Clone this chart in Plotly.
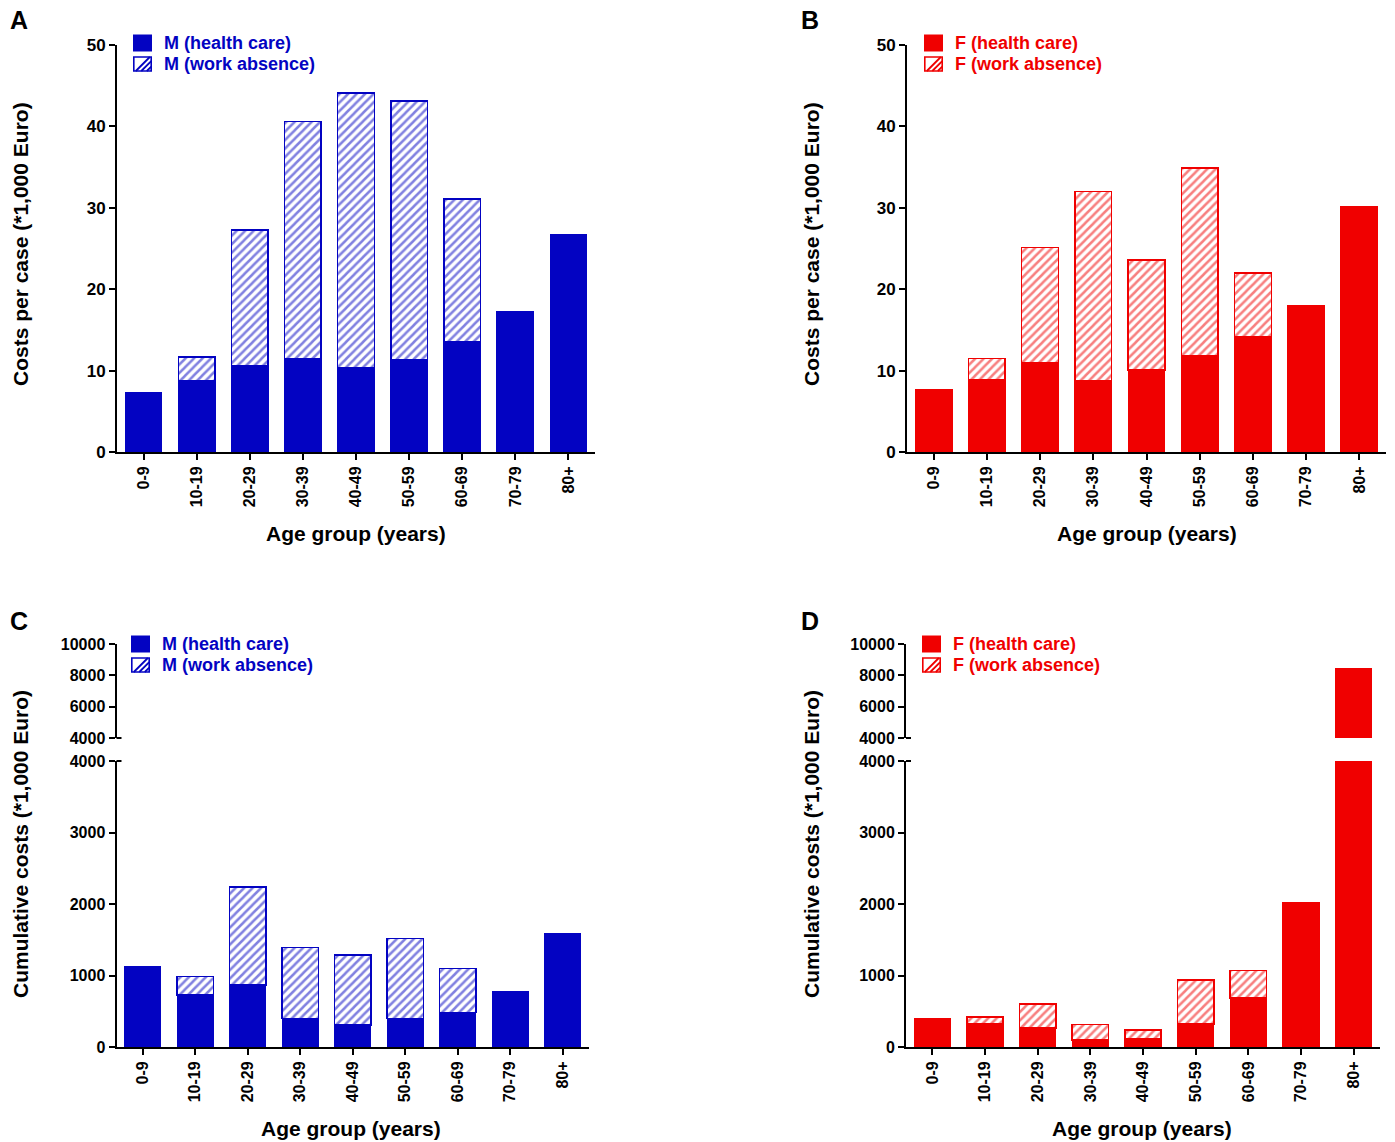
import plotly.graph_objects as go

ages = ["0-9", "10-19", "20-29", "30-39", "40-49", "50-59", "60-69", "70-79", "80+"]

# Panel A: men, costs per case (*1,000 Euro)
a_health = [7.3, 8.8, 10.6, 11.5, 10.4, 11.3, 13.5, 17.3, 26.7]
a_work = [None, 2.9, 16.7, 29.1, 33.7, 31.8, 17.6, None, None]

# Panel B: women, costs per case
b_health = [7.7, 8.9, 10.9, 8.8, 10.1, 11.8, 14.1, 18.0, 30.1]
b_work = [None, 2.6, 14.2, 23.2, 13.5, 23.1, 7.9, None, None]

# Panel C: men, cumulative costs
c_health = [1120, 725, 870, 400, 305, 400, 485, 780, 1580]
c_work = [None, 260, 1370, 990, 980, 1115, 615, None, None]

# Panel D: women, cumulative costs
d_health = [395, 325, 270, 100, 110, 325, 685, 2025, 8400]
d_work = [None, 95, 335, 215, 130, 610, 385, None, None]

BLUE = "#0303C2"
RED = "#F00000"
W, H = 1395, 1142
FONT = "Liberation Sans"


def px(x):
    return x / W


def py(y):
    return 1 - y / H


fig = go.Figure()


def add_pair(health, work, color, sex, xa, ya):
    fig.add_trace(go.Bar(
        x=ages, y=health, name=f"{sex} (health care)", xaxis=xa, yaxis=ya,
        marker=dict(color=color, line=dict(color=color, width=1.2)), showlegend=False))
    fig.add_trace(go.Bar(
        x=ages, y=work, name=f"{sex} (work absence)", xaxis=xa, yaxis=ya,
        marker=dict(color="white", line=dict(color=color, width=1.6),
                    pattern=dict(shape="/", fgcolor=color, bgcolor="white",
                                 size=6, solidity=0.42, fillmode="overlay")),
        showlegend=False))


add_pair(a_health, a_work, BLUE, "M", "x", "y")
add_pair(b_health, b_work, RED, "F", "x2", "y2")
add_pair(c_health, c_work, BLUE, "M", "x3", "y3")
add_pair(c_health, c_work, BLUE, "M", "x5", "y5")
add_pair(d_health, d_work, RED, "F", "x4", "y4")
add_pair(d_health, d_work, RED, "F", "x6", "y6")

tickfont = dict(family=FONT, size=16, color="black", weight="bold")
tickfont_ab = dict(family=FONT, size=17, color="black", weight="bold")
common_x = dict(type="category", range=[-0.5, 8.5], showline=True, linecolor="black",
                linewidth=2, ticks="outside", ticklen=6, tickwidth=2, tickcolor="black",
                tickangle=-90, tickfont=tickfont, showgrid=False, zeroline=False,
                automargin=False)
common_y = dict(showline=True, linecolor="black", linewidth=2, ticks="outside",
                ticklen=6, tickwidth=2, tickcolor="black", tickfont=tickfont,
                showgrid=False, zeroline=False, tickformat="d", automargin=False)

TOP_AB, BOT_AB = 45, 452
UP_T, UP_B, LO_T, LO_B = 644, 738, 761, 1047
XA = (117, 595)
XB = (907, 1386)
XC = (116.5, 589)
XD = (906, 1380)

lay = dict(
    width=W, height=H, margin=dict(l=0, r=0, t=0, b=0, autoexpand=False),
    paper_bgcolor="white", plot_bgcolor="white", barmode="stack", bargap=0.31,
    font=dict(family=FONT, color="black"), showlegend=False,
)
lay["xaxis"] = dict(common_x, domain=[px(XA[0]), px(XA[1])], anchor="y")
lay["yaxis"] = dict(common_y, domain=[py(BOT_AB), py(TOP_AB)], range=[0, 50], dtick=10,
                    anchor="x", tickfont=tickfont_ab)
lay["xaxis2"] = dict(common_x, domain=[px(XB[0]), px(XB[1])], anchor="y2")
lay["yaxis2"] = dict(common_y, domain=[py(BOT_AB), py(TOP_AB)], range=[0, 50], dtick=10,
                     anchor="x2", tickfont=tickfont_ab)
lay["xaxis3"] = dict(common_x, domain=[px(XC[0]), px(XC[1])], anchor="y3")
lay["yaxis3"] = dict(common_y, domain=[py(LO_B), py(LO_T)], range=[0, 4000],
                     tickvals=[0, 1000, 2000, 3000, 4000], anchor="x3")
lay["xaxis5"] = dict(domain=[px(XC[0]), px(XC[1])], anchor="y5", type="category",
                     range=[-0.5, 8.5], visible=False, matches="x3")
lay["yaxis5"] = dict(common_y, domain=[py(UP_B), py(UP_T)], range=[4000, 10000],
                     tickvals=[4000, 6000, 8000, 10000], anchor="x5")
lay["xaxis4"] = dict(common_x, domain=[px(XD[0]), px(XD[1])], anchor="y4")
lay["yaxis4"] = dict(common_y, domain=[py(LO_B), py(LO_T)], range=[0, 4000],
                     tickvals=[0, 1000, 2000, 3000, 4000], anchor="x4")
lay["xaxis6"] = dict(domain=[px(XD[0]), px(XD[1])], anchor="y6", type="category",
                     range=[-0.5, 8.5], visible=False, matches="x4")
lay["yaxis6"] = dict(common_y, domain=[py(UP_B), py(UP_T)], range=[4000, 10000],
                     tickvals=[4000, 6000, 8000, 10000], anchor="x6")
fig.update_layout(**lay)

ann = []
shapes = []
title_font = dict(family=FONT, size=21, color="black", weight="bold")
letter_font = dict(family=FONT, size=25, color="black", weight="bold")
for x, y, t in [(19, 20, "A"), (810, 20, "B"), (19, 621, "C"), (810, 621, "D")]:
    ann.append(dict(x=px(x), y=py(y), text=t, showarrow=False, font=letter_font,
                    xref="paper", yref="paper", xanchor="center", yanchor="middle"))
for x, y, t in [(20, 244, "Costs per case (*1,000 Euro)"), (811, 244, "Costs per case (*1,000 Euro)"),
                (20, 844, "Cumulative costs (*1,000 Euro)"), (811, 844, "Cumulative costs (*1,000 Euro)")]:
    ann.append(dict(x=px(x), y=py(y), text=t, showarrow=False, font=title_font, textangle=-90,
                    xref="paper", yref="paper", xanchor="center", yanchor="middle"))
for x, y in [(355.5, 533), (1146.5, 533), (351, 1128), (1142, 1128)]:
    ann.append(dict(x=px(x), y=py(y), text="Age group (years)", showarrow=False, font=title_font,
                    xref="paper", yref="paper", xanchor="center", yanchor="middle"))


def legend(x0, yc1, yc2, color, sex):
    # solid swatch
    shapes.append(dict(type="rect", xref="paper", yref="paper", x0=px(x0), x1=px(x0 + 19),
                       y0=py(yc1 + 8.5), y1=py(yc1 - 8.5), fillcolor=color, line=dict(width=0)))
    # hatched swatch
    bx0, bx1, by0, by1 = x0 + 0.8, x0 + 18.2, yc2 - 7, yc2 + 7
    shapes.append(dict(type="rect", xref="paper", yref="paper", x0=px(bx0), x1=px(bx1),
                       y0=py(by1), y1=py(by0), fillcolor="white", line=dict(color=color, width=1.6)))
    step = 5.5
    c = bx0 + 2
    while c < bx1 + (by1 - by0):
        xs, ys = c, by1
        xe, ye = c + (by1 - by0), by0
        if xs < bx0:
            ys -= (bx0 - xs)
            xs = bx0
        if xe > bx1:
            ye += (xe - bx1)
            xe = bx1
        if xs < xe:
            shapes.append(dict(type="line", xref="paper", yref="paper", x0=px(xs), y0=py(ys),
                               x1=px(xe), y1=py(ye), line=dict(color=color, width=1.8)))
        c += step
    lf = dict(family=FONT, size=18, color=color, weight="bold")
    for yc, t in [(yc1, f"{sex} (health care)"), (yc2, f"{sex} (work absence)")]:
        ann.append(dict(x=px(x0 + 29), y=py(yc), text=t, showarrow=False, font=lf,
                        xref="paper", yref="paper", xanchor="left", yanchor="middle"))


legend(133, 43, 64, BLUE, "M")
legend(924, 43, 64, RED, "F")
legend(131, 644, 665, BLUE, "M")
legend(922, 644, 665, RED, "F")

# small break marks on the broken axes
for xa in (XC[0], XD[0]):
    for yy in (UP_B, LO_T):
        shapes.append(dict(type="line", xref="paper", yref="paper", x0=px(xa), x1=px(xa + 5),
                           y0=py(yy), y1=py(yy), line=dict(color="black", width=2)))

fig.update_layout(annotations=ann, shapes=shapes)

fig.write_html("out.html", config={"displayModeBar": False},
               post_script="document.body.style.margin='0px';document.body.style.overflow='hidden';")
